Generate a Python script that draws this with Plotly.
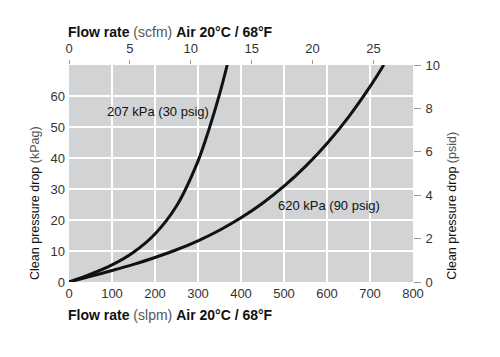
import plotly.graph_objects as go

# Data: flow in slpm, pressure drop in kPa
flow_207 = [0, 50, 100, 150, 200, 250, 300, 325, 350, 368]
dp_207 = [0, 2.5, 5.5, 9.6, 15.5, 24.5, 39.0, 49.0, 60.5, 70.0]
flow_620 = [0, 50, 100, 150, 200, 250, 300, 350, 400, 450, 500, 550, 600, 650, 700, 732]
dp_620 = [0, 1.8, 3.7, 5.7, 7.9, 10.4, 13.3, 16.7, 20.7, 25.4, 30.9, 37.3, 44.7, 53.2, 63.0, 70.0]

label_207 = "207 kPa (30 psig)"
label_620 = "620 kPa (90 psig)"

SLPM_PER_SCFM = 28.317
x_max = 800
y_max = 70
psi_max = 10

font_main = "Liberation Sans, Arial, sans-serif"
tick_col = "#333333"
curve_col = "#111111"

fig = go.Figure()
fig.add_trace(go.Scatter(x=flow_207, y=dp_207, mode="lines",
                         line=dict(color=curve_col, width=3, shape="spline", smoothing=0.9),
                         hoverinfo="skip", showlegend=False))
fig.add_trace(go.Scatter(x=flow_620, y=dp_620, mode="lines",
                         line=dict(color=curve_col, width=3, shape="spline", smoothing=0.9),
                         hoverinfo="skip", showlegend=False))
# invisible trace to activate secondary axes
fig.add_trace(go.Scatter(x=[0], y=[0], xaxis="x2", yaxis="y2", mode="markers",
                         marker=dict(opacity=0), hoverinfo="skip", showlegend=False))

fig.update_layout(
    width=500, height=357,
    margin=dict(l=69, r=87, t=65, b=75),
    paper_bgcolor="white", plot_bgcolor="#d1d3d4",
    font=dict(family=font_main, size=13, color=tick_col),
    xaxis=dict(range=[0, x_max], dtick=100, tick0=0, showgrid=True, gridcolor="white",
               gridwidth=1.5, zeroline=False, showline=False, ticks="", automargin=False,
               tickfont=dict(size=13, color=tick_col), ticklabelstandoff=2),
    yaxis=dict(range=[0, y_max], showgrid=True, gridcolor="white",
               gridwidth=1.5, zeroline=False, showline=False, ticks="", automargin=False,
               tickvals=[0, 10, 20, 30, 40, 50, 60],
               tickfont=dict(size=13, color=tick_col), ticklabelstandoff=3),
    xaxis2=dict(range=[0, x_max / SLPM_PER_SCFM], overlaying="x", side="top",
                tickvals=[0, 5, 10, 15, 20, 25], showgrid=False, zeroline=False,
                ticks="outside", ticklen=4, tickcolor="#999999", tickwidth=1, automargin=False,
                tickfont=dict(size=13, color=tick_col), ticklabelstandoff=2),
    yaxis2=dict(range=[0, psi_max], overlaying="y", side="right",
                tickvals=[0, 2, 4, 6, 8, 10], showgrid=False, zeroline=False,
                ticks="outside", ticklen=7, tickcolor="#999999", tickwidth=1, automargin=False,
                tickfont=dict(size=13, color=tick_col), ticklabelstandoff=2),
)

title_x = "<b>Flow rate</b> <span style='color:#555'>(scfm)</span> <b>Air 20°C / 68°F</b>"
title_b = "<b>Flow rate</b> <span style='color:#555'>(slpm)</span> <b>Air 20°C / 68°F</b>"

fig.add_annotation(text=title_x, xref="paper", yref="paper", x=-0.01, y=1.152,
                   xanchor="left", yanchor="middle", showarrow=False,
                   font=dict(size=14, color=curve_col))
fig.add_annotation(text=title_b, xref="paper", yref="paper", x=-0.01, y=-0.152,
                   xanchor="left", yanchor="middle", showarrow=False,
                   font=dict(size=14, color=curve_col))
fig.add_annotation(text="Clean pressure drop <span style='color:#555'>(kPag)</span>",
                   xref="paper", yref="paper", x=-0.099, y=0.0, textangle=-90,
                   xanchor="center", yanchor="bottom", showarrow=False,
                   font=dict(size=12.5, color=curve_col))
fig.add_annotation(text="Clean pressure drop <span style='color:#555'>(psid)</span>",
                   xref="paper", yref="paper", x=1.113, y=0.0, textangle=-90,
                   xanchor="center", yanchor="bottom", showarrow=False,
                   font=dict(size=12.5, color=curve_col))
fig.add_annotation(text=label_207, x=207, y=55, xref="x", yref="y", showarrow=False,
                   font=dict(size=13, color=curve_col))
fig.add_annotation(text=label_620, x=605, y=24.7, xref="x", yref="y", showarrow=False,
                   font=dict(size=13, color=curve_col))

fig.write_html("out.html", post_script="document.body.style.margin='0px';",
               config={"displayModeBar": False})
